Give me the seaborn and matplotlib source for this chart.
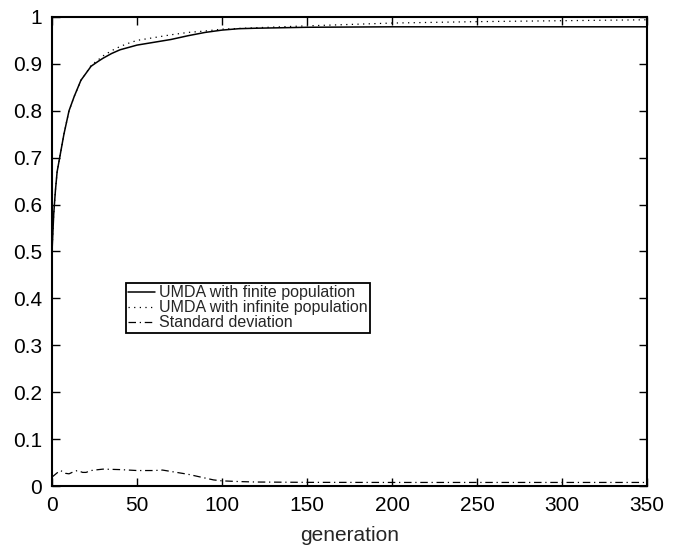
import matplotlib
matplotlib.use("Agg")
import matplotlib.pyplot as plt
import seaborn as sns
import pandas as pd

# values
gen_finite = [0, 1, 2, 3, 5, 7, 10, 13, 17, 20, 23, 27, 30, 35, 40, 45, 50, 60, 70, 80, 90, 100,
              110, 120, 150, 200, 250, 300, 350]
finite = [0.50, 0.58, 0.63, 0.67, 0.71, 0.75, 0.80, 0.83, 0.865, 0.88, 0.895, 0.905, 0.912, 0.922,
          0.93, 0.935, 0.94, 0.946, 0.952, 0.96, 0.967, 0.972, 0.975, 0.976, 0.978, 0.979, 0.979,
          0.979, 0.979]

gen_infinite = [0, 1, 2, 3, 5, 7, 10, 13, 17, 20, 23, 27, 30, 35, 40, 45, 50, 60, 70, 80, 90, 100,
                120, 150, 200, 250, 300, 350]
infinite = [0.50, 0.58, 0.63, 0.67, 0.71, 0.75, 0.80, 0.83, 0.865, 0.88, 0.897, 0.908, 0.917, 0.928,
            0.937, 0.944, 0.95, 0.956, 0.962, 0.967, 0.97, 0.974, 0.977, 0.981, 0.987, 0.99, 0.992,
            0.994]

gen_std = [0, 3, 5, 8, 10, 13, 15, 18, 20, 23, 25, 30, 40, 50, 60, 65, 70, 75, 80, 85, 90, 95, 100,
           110, 120, 150, 200, 250, 300, 350]
std = [0.019, 0.028, 0.033, 0.027, 0.026, 0.031, 0.033, 0.029, 0.029, 0.033, 0.034, 0.036, 0.035,
       0.033, 0.033, 0.034, 0.031, 0.028, 0.025, 0.021, 0.017, 0.013, 0.011, 0.0095, 0.0085, 0.0078,
       0.0076, 0.0076, 0.0076, 0.0076]

yticks = [0, 0.1, 0.2, 0.3, 0.4, 0.5, 0.6, 0.7, 0.8, 0.9, 1]
ytick_labels = ["0", "0.1", "0.2", "0.3", "0.4", "0.5", "0.6", "0.7", "0.8", "0.9", "1"]
xticks = [0, 50, 100, 150, 200, 250, 300, 350]

sns.set_style("ticks")
plt.rcParams["font.family"] = ["Liberation Sans", "DejaVu Sans"]
plt.rcParams["xtick.direction"] = "in"
plt.rcParams["ytick.direction"] = "in"

df_fin = pd.DataFrame({"generation": gen_finite, "value": finite})
df_inf = pd.DataFrame({"generation": gen_infinite, "value": infinite})
df_std = pd.DataFrame({"generation": gen_std, "value": std})

fig = plt.figure(figsize=(6.8, 5.47), dpi=100)
ax = fig.add_axes([0.0765, 0.1115, 0.875, 0.8575])

sns.lineplot(data=df_fin, x="generation", y="value", ax=ax, color="black", lw=1.1,
             label="UMDA with finite population")
sns.lineplot(data=df_inf, x="generation", y="value", ax=ax, color="black", lw=0.9,
             linestyle=(0, (1, 3.5)), label="UMDA with infinite population")
sns.lineplot(data=df_std, x="generation", y="value", ax=ax, color="black", lw=0.9,
             linestyle=(0, (6, 3, 1, 3)), label="Standard deviation")

ax.set_xlim(0, 350)
ax.set_ylim(0, 1)
ax.set_xticks(xticks)
ax.set_yticks(yticks)
ax.set_yticklabels(ytick_labels)
ax.tick_params(labelsize=15, length=6, width=1, top=True, right=True, colors="black")
ax.tick_params(axis="y", pad=7)
ax.tick_params(axis="x", pad=7)
ax.set_xlabel("generation", fontsize=15, labelpad=8)
ax.set_ylabel("")
for s in ax.spines.values():
    s.set_linewidth(1.5)
    s.set_color("black")

leg = ax.legend(loc="upper left", bbox_to_anchor=(0.124, 0.433), borderaxespad=0,
                fontsize=11.5, handlelength=1.7, handletextpad=0.2, labelspacing=0.0,
                borderpad=0.15, fancybox=False, framealpha=1)
leg.get_frame().set_edgecolor("black")
leg.get_frame().set_linewidth(1.3)

fig.savefig("out.png", dpi=100)
